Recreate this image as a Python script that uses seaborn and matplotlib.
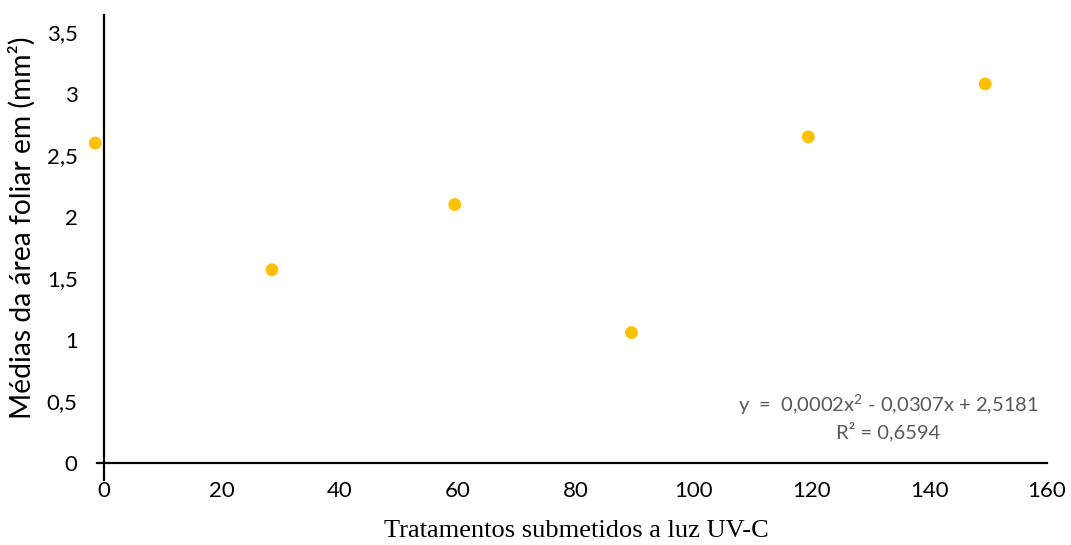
import matplotlib
matplotlib.use("Agg")
import matplotlib.pyplot as plt
import seaborn as sns
import pandas as pd

x_vals = [-1.5, 28.5, 59.5, 89.5, 119.5, 149.5]
y_vals = [2.60, 1.57, 2.10, 1.06, 2.65, 3.08]
x_ticks = [0, 20, 40, 60, 80, 100, 120, 140, 160]
y_ticks = [0, 0.5, 1, 1.5, 2, 2.5, 3, 3.5]
y_tick_labels = ["0", "0,5", "1", "1,5", "2", "2,5", "3", "3,5"]
equation = r"y  =  0,0002x$^{\mathregular{2}}$ - 0,0307x + 2,5181"
r2_text = "R² = 0,6594"
xlabel = "Tratamentos submetidos a luz UV-C"
ylabel = "Médias da área foliar em (mm²)"

sns.set_theme(style="white")
plt.rcParams["font.family"] = ["Lato", "DejaVu Sans"]

df = pd.DataFrame({"x": x_vals, "y": y_vals})

fig = plt.figure(figsize=(10.71, 5.45), dpi=100)
ax = fig.add_axes([97 / 1071, (545 - 480) / 545, (1047 - 97) / 1071, (480 - 15) / 545])

sns.scatterplot(data=df, x="x", y="y", ax=ax, color="#FFC000", s=85,
                edgecolor="none", clip_on=False, zorder=3)

ax.set_xlim(-1.2, 160)
ax.set_ylim(-0.138, 3.64)
ax.spines["left"].set_position(("data", 0))
ax.spines["bottom"].set_position(("data", 0))
for s in ["top", "right"]:
    ax.spines[s].set_visible(False)
for s in ["left", "bottom"]:
    ax.spines[s].set_color("black")
    ax.spines[s].set_linewidth(1.6)

ax.set_xticks(x_ticks)
ax.set_xticklabels([str(t) for t in x_ticks])
ax.set_yticks(y_ticks)
ax.set_yticklabels(y_tick_labels)
ax.tick_params(axis="both", length=0, labelsize=16, colors="black")
ax.tick_params(axis="x", pad=13)
ax.tick_params(axis="y", pad=19)
ax.grid(False)

ax.set_xlabel("")
ax.set_ylabel("")
fig.text(576 / 1071, 1 - 531 / 545, xlabel, ha="center", va="center",
         fontsize=19, family=["Liberation Serif"], color="black")
fig.text(22 / 1071, 1 - 228 / 545, ylabel, ha="center", va="center",
         rotation=90, fontsize=20.3, color="black")

fig.text(888 / 1071, 1 - 405 / 545, equation, ha="center", va="center",
         fontsize=14.5, color="#595959")
fig.text(888 / 1071, 1 - 432 / 545, r2_text, ha="center", va="center",
         fontsize=14.5, color="#595959")

fig.savefig("out.png", dpi=100)
